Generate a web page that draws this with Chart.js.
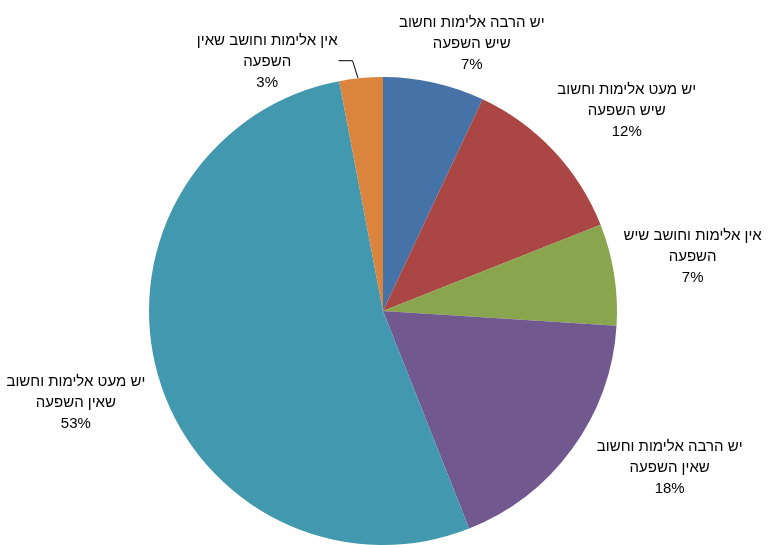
<!DOCTYPE html>
<html lang="he">
<head>
<meta charset="utf-8">
<script src="https://cdn.jsdelivr.net/npm/chart.js@4"></script>
<style>
  html, body { margin: 0; padding: 0; background: #fff; }
  #wrap { width: 768px; height: 545px; position: relative; }
</style>
</head>
<body>
<div id="wrap"><canvas id="violencePie"></canvas></div>
<script>
// slice labels (two lines each) and their percentages
const labelLines = [
    ["יש הרבה אלימות וחשוב", "שיש השפעה"],
    ["יש מעט אלימות וחשוב", "שיש השפעה"],
    ["אין אלימות וחושב שיש", "השפעה"],
    ["יש הרבה אלימות וחשוב", "שאין השפעה"],
    ["יש מעט אלימות וחשוב", "שאין השפעה"],
    ["אין אלימות וחושב שאין", "השפעה"]
];
const percents = [7, 12, 7, 18, 53, 3];
const sliceColors = ['#4572A7', '#AA4643', '#89A54E', '#71588F', '#4198AF', '#DB843D'];

// nudges for each label away from its default spot outside the slice
const labelNudge = [[29, 0], [44, -13], [39, -11], [65, -4], [-44, 15], [-90, 24]];
const leaderLine = [false, false, false, false, false, true];

const outsideLabels = {
    id: 'outsideLabels',
    afterDatasetsDraw(chart) {
        const ctx = chart.ctx;
        const arcs = chart.getDatasetMeta(0).data;
        ctx.save();
        ctx.font = '15px "Liberation Sans", Arial, sans-serif';
        ctx.fillStyle = '#000';
        ctx.textAlign = 'center';
        ctx.textBaseline = 'middle';
        ctx.direction = 'rtl';
        const lineH = 21;
        arcs.forEach((arc, i) => {
            const mid = (arc.startAngle + arc.endAngle) / 2;
            const r = arc.outerRadius + 40;
            const x = arc.x + Math.cos(mid) * r + labelNudge[i][0];
            const y = arc.y + Math.sin(mid) * r + labelNudge[i][1];
            const lines = [...labelLines[i], percents[i] + '%'];
            lines.forEach((t, k) => ctx.fillText(t, x, y + (k - 1) * lineH));

            if (leaderLine[i]) {
                const w = ctx.measureText(lines[0]).width;
                const ex = arc.x + Math.cos(mid) * arc.outerRadius;
                const ey = arc.y + Math.sin(mid) * arc.outerRadius;
                ctx.beginPath();
                ctx.strokeStyle = '#000';
                ctx.lineWidth = 1;
                ctx.moveTo(x + w / 2 + 1, y - 1.5);
                ctx.lineTo(x + w / 2 + 15, y - 1.5);
                ctx.lineTo(ex - 3, ey);
                ctx.stroke();
            }
        });
        ctx.restore();
    }
};

new Chart(document.getElementById('violencePie').getContext('2d'), {
    type: 'pie',
    data: {
        labels: labelLines.map(l => l.join(' ')),
        datasets: [{
            data: percents,
            backgroundColor: sliceColors,
            borderWidth: 0
        }]
    },
    options: {
        responsive: true,
        maintainAspectRatio: false,
        animation: false,
        layout: { padding: { top: 77, bottom: -3, left: 0, right: 2 } },
        plugins: {
            legend: { display: false },
            tooltip: { enabled: false }
        }
    },
    plugins: [outsideLabels]
});
</script>
</body>
</html>
